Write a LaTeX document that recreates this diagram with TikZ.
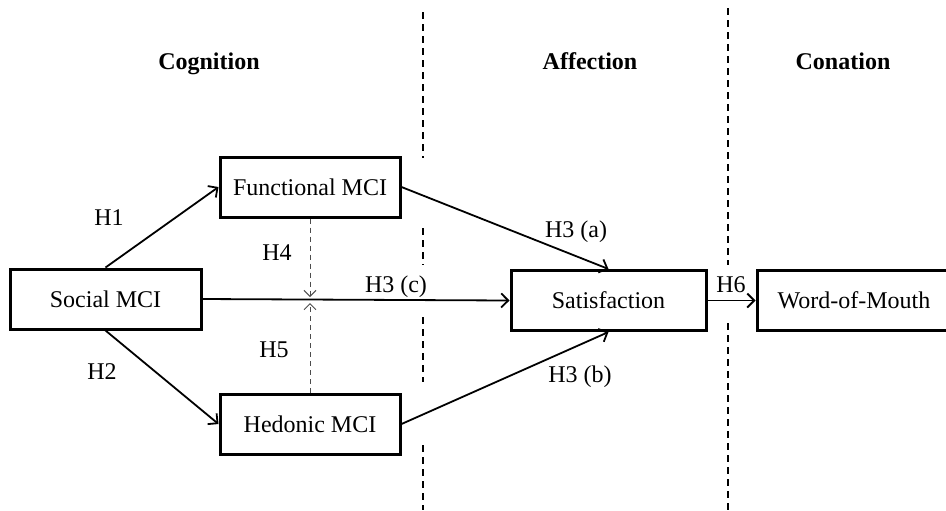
\documentclass[tikz,border=0pt]{standalone}
\usepackage{fontspec}
\setmainfont{Liberation Serif}
\usetikzlibrary{arrows.meta}

\tikzset{
	box/.style={shape=rectangle, draw, line width=1.5pt, inner sep=0pt, font=\fontsize{12}{14}\selectfont},
	link/.style={line width=0.9pt, -{Straight Barb[length=3.5pt,width=7pt]}},
	moderation/.style={line width=0.5pt, draw=black!70, dash pattern={on 2.5pt off 2pt}, -{Straight Barb[length=3pt,width=6pt]}},
	divider/.style={line width=1pt, dash pattern={on 3.5pt off 2.5pt}},
	lbl/.style={font=\fontsize{12}{14}\selectfont, inner sep=1pt},
	stage/.style={font=\fontsize{12}{14}\selectfont\bfseries, inner sep=1pt, anchor=base}
}

\begin{document}
\begin{tikzpicture}[x=0.5pt, y=-0.5pt]
	\useasboundingbox (0, 0) rectangle (946, 510);
	% Stages and dividers:
	\node[stage](Cog) at (209, 69){Cognition};
	\node[stage](Aff) at (590, 69){Affection};
	\node[stage](Con) at (843, 69){Conation};
	\draw[divider] (423, 12) -- (423, 158);
	\draw[divider] (423, 228) -- (423, 265);
	\draw[divider] (423, 317) -- (423, 382);
	\draw[divider] (423, 445) -- (423, 510);
	\draw[divider] (728, 8) -- (728, 265);
	\draw[divider] (728, 323) -- (728, 510);
	% Constructs:
	\node[box, minimum width=95.5pt, minimum height=30pt](Social) at (105.5, 299){Social MCI};
	\node[box, minimum width=90pt, minimum height=30pt](Func) at (310, 187){Functional MCI};
	\node[box, minimum width=90pt, minimum height=30pt](Hed) at (310, 424){Hedonic MCI};
	\node[box, minimum width=97.5pt, minimum height=30pt](Sat) at (608.5, 300.5){Satisfaction};
	\node[box, minimum width=97pt, minimum height=30pt](WoM) at (854, 300.5){Word-of-Mouth};
	\coordinate (M1) at (310, 297);
	\coordinate (M2) at (310, 303);
	% Paths:
	\draw[link] (Social.north) -- (Func.west);
	\draw[link] (Social.south) -- (Hed.west);
	\draw[link] (Social.east) -- (Sat.west);
	\draw[link] (Func.east) -- (Sat.north);
	\draw[link] (Hed.east) -- (Sat.south);
	\draw[link] (Sat.east) -- (WoM.west);
	\draw[moderation] (Func.south) -- (M1);
	\draw[moderation] (Hed.north) -- (M2);
	% Hypotheses:
	\node[lbl](H1) at (109, 218){H1};
	\node[lbl](H2) at (102, 372){H2};
	\node[lbl](H4) at (277, 253){H4};
	\node[lbl](H5) at (274, 350){H5};
	\node[lbl](H3c) at (396, 287){H3 (c)};
	\node[lbl](H3a) at (576, 232){H3 (a)};
	\node[lbl](H3b) at (580, 377){H3 (b)};
	\node[lbl](H6) at (731, 285){H6};
\end{tikzpicture}
\end{document}
